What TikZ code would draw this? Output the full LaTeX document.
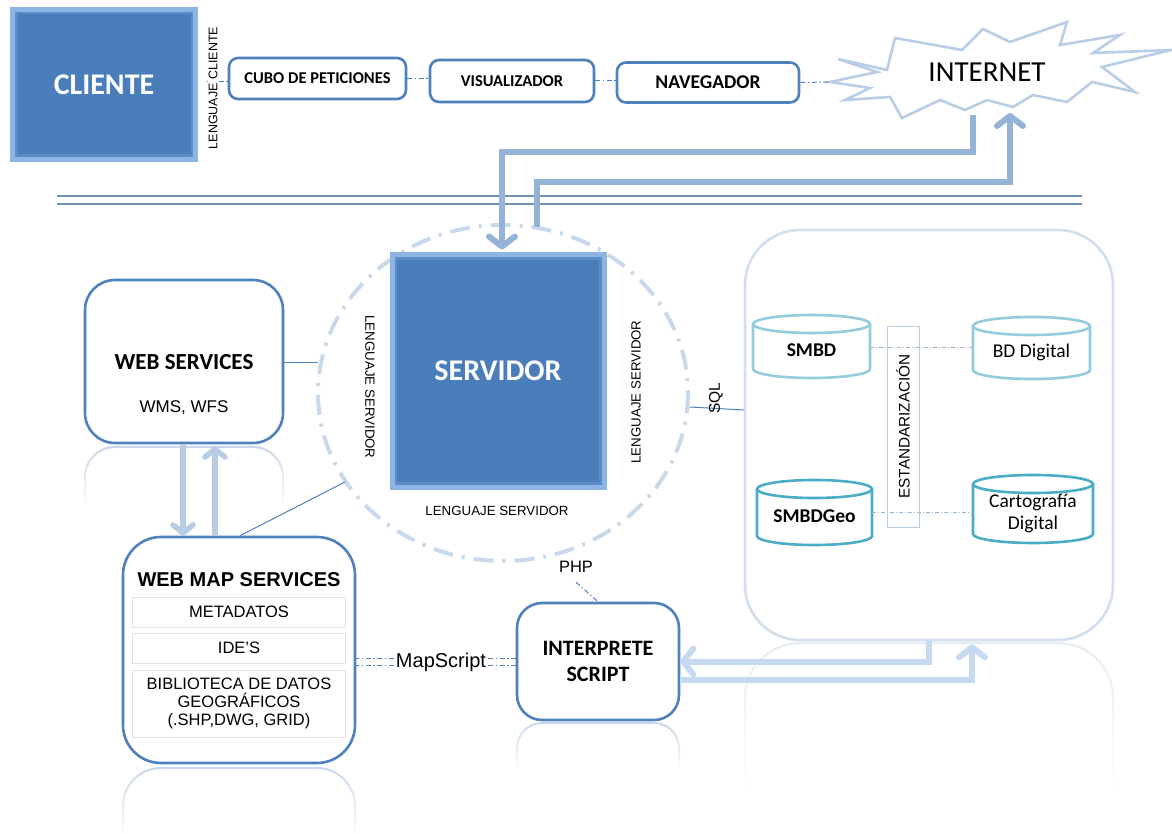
\documentclass[tikz,border=0pt]{standalone}
\usepackage{fontspec}
\setmainfont{Liberation Sans}
\newfontfamily\calfont{Carlito}
\usetikzlibrary{arrows.meta,calc,fadings}
\definecolor{boxblue}{HTML}{4F81BD}
\definecolor{fillblue}{HTML}{4A7EBB}
\definecolor{glowblue}{HTML}{8DB4E2}
\definecolor{bevelblue}{HTML}{6E9BD6}
\definecolor{arrowblue}{HTML}{95B3D7}
\definecolor{midblue}{HTML}{B8CCE4}
\definecolor{paleblue}{HTML}{C6D9F1}
\definecolor{circblue}{HTML}{C9D9EC}
\definecolor{lineblue}{HTML}{6D94B8}
\definecolor{tealA}{HTML}{93CDDD}
\definecolor{tealB}{HTML}{4BACC6}
\definecolor{starblue}{HTML}{B9CDE5}
\definecolor{bigline}{HTML}{D3DFEE}
\definecolor{cellgray}{HTML}{E2E2E2}
\definecolor{reflblue}{HTML}{C9D7EA}
\definecolor{reflpale}{HTML}{E6ECF5}
\newcommand\dbcyl[8]{%
  \pgfmathsetmacro\cylcx{(#2+#4)/2}%
  \pgfmathsetmacro\cylrx{(#4-#2)/2}%
  \draw[draw=#6, line width=2.6pt, fill=white] (#2,#3+9) -- (#2,#5-9)
     arc[start angle=180, end angle=0, x radius=\cylrx, y radius=9] -- (#4,#3+9);
  \draw[draw=#6, line width=2.6pt] (\cylcx,#3+9) ellipse [x radius=\cylrx, y radius=9];
  \node[cyltext, font=#7, minimum width=#4-#2, minimum height=#5-#3-18] (#1) at (\cylcx,{(#3+#5)/2+4}) {#8};
}
\begin{document}
\begin{tikzpicture}[x=1pt,y=-1pt,
  bluebox/.style={fill=fillblue, draw=glowblue, line width=5pt, text=white,
    font=\calfont\bfseries\fontsize{30}{33}\selectfont, inner sep=0,
    path picture={\draw[bevelblue, line width=10pt, opacity=.5]
      (path picture bounding box.south west) rectangle (path picture bounding box.north east);}},
  rbox/.style={draw=boxblue, line width=2.6pt, rounded corners=9pt, fill=white, align=center, inner sep=0},
  toplbl/.style={font=\calfont\bfseries\fontsize{16.5}{18}\selectfont},
  vlbl/.style={font=\fontsize{13.3}{15}\selectfont, inner sep=0},
  thinlink/.style={draw=boxblue, line width=1pt},
  ddlink/.style={draw=boxblue, line width=1pt, dash pattern=on 5pt off 2.5pt on 1.5pt off 2.5pt},
  cyllink/.style={draw=lineblue!70, line width=0.8pt, dash pattern=on 4pt off 2pt on 1pt off 2pt},
  bigarrow/.style={draw=arrowblue, line width=6pt, -{Straight Barb[length=10pt,width=26pt,round]}},
  midarrow/.style={draw=midblue, line width=5.5pt, -{Straight Barb[length=8pt,width=20pt,round]}},
  palearrow/.style={draw=paleblue, line width=6pt, -{Straight Barb[length=10pt,width=26pt,round]}},
  cell/.style={draw=cellgray, line width=0.8pt, minimum width=213pt, inner sep=0, align=center,
    font=\fontsize{16.5}{18}\selectfont},
  cyltext/.style={inner sep=0, align=center},
  reflect/.style={draw=#1, line width=2pt, path fading=south},
  reflect/.default=reflblue
]
\useasboundingbox (0,0) rectangle (1172,834);
\fill[white] (0,0) rectangle (1172,834);

% ---------- top row ----------
\node[bluebox, minimum width=183pt, minimum height=150pt] (cliente) at (104,84.5) {CLIENTE};
\node[rbox, minimum width=177pt, minimum height=41pt, toplbl] (cubo) at (317.5,78.5) {CUBO DE PETICIONES};
\node[rbox, minimum width=164pt, minimum height=42pt, toplbl] (visu) at (512,81) {VISUALIZADOR};
\node[rbox, minimum width=182pt, minimum height=40pt, font=\calfont\bfseries\fontsize{19.5}{21}\selectfont] (nave) at (708,82.5) {NAVEGADOR};
\coordinate (lcfree) at (207,82);
\draw[ddlink] (lcfree) -- (cubo.west |- lcfree);
\node[font=\fontsize{12.5}{14}\selectfont, rotate=90, fill=white, inner sep=0.5pt] (lengcli) at (213,88) {LENGUAJE CLIENTE};
\draw[ddlink] (cubo.east) -- (visu.west |- cubo.east);
\draw[ddlink] (visu.east) -- (nave.west |- visu.east);

% INTERNET starburst
\draw[starblue, line width=2.6pt, line join=miter, fill=white]
  (838,59) -- (887,70) -- (895,38) -- (962,50) -- (983,29) -- (1010,42) -- (1067,22)
  -- (1060,45) -- (1120,35) -- (1093,53) -- (1171,50) -- (1102,67) -- (1135,92)
  -- (1092,82) -- (1067,102) -- (1033,95) -- (1013,107) -- (987,100) -- (965,110)
  -- (940,100) -- (902,118) -- (890,97) -- (845,100) -- (870,88) -- (830,82)
  -- (877,72) -- cycle;
\node[font=\calfont\fontsize{29}{32}\selectfont] (internet) at (987,72) {INTERNET};
\coordinate (inettip) at (830,82);
\draw[ddlink] (nave.east) -- (inettip);

% separator lines
\draw[lineblue, line width=1.4pt] (57,196) -- (1082,196);
\draw[lineblue, line width=1.4pt] (57,204) -- (1082,204);

% ---------- server ----------
\draw[circblue, line width=4pt, dash pattern=on 20pt off 9pt on 3pt off 9pt] (503,393) ellipse [x radius=185, y radius=168];
\node[bluebox, minimum width=212pt, minimum height=232pt] (serv) at (498,371) {SERVIDOR};
\node[vlbl, rotate=-90] (lsL) at (370,387) {LENGUAJE SERVIDOR};
\node[vlbl, rotate=90] (lsR) at (636,392) {LENGUAJE SERVIDOR};
\node[vlbl] (lsB) at (497,511) {LENGUAJE SERVIDOR};

% internet <-> server arrows
\coordinate (inetout) at (973,115);
\coordinate (inetin) at (1010,113);
\coordinate (servout) at (537,227);
\draw[bigarrow] (inetout) -- ++(0,37) -| ([xshift=4pt,yshift=3pt]serv.north);
\draw[bigarrow] (servout) -- ++(0,-45) -| (inetin);

% ---------- data box ----------
\node[draw=bigline, line width=2.6pt, rounded corners=55pt, minimum width=368pt, minimum height=410pt, inner sep=0] (bigb) at (929,435) {};
\dbcyl{smbd}{753}{315}{870}{378}{tealA}{\calfont\bfseries\fontsize{19.5}{21}\selectfont}{SMBD}
\dbcyl{bdd}{973}{317}{1090}{379}{tealA}{\calfont\fontsize{19.5}{21}\selectfont}{BD Digital}
\dbcyl{smbdgeo}{757}{480}{872}{545}{tealB}{\calfont\bfseries\fontsize{19.5}{21}\selectfont}{SMBDGeo}
\dbcyl{carto}{973}{475}{1093}{543}{tealB}{\calfont\fontsize{19.5}{22}\selectfont}{Cartograf\'ia\\Digital}
\draw[cyllink] (smbd.east |- 0,347) -- (bdd.west |- 0,347);
\draw[cyllink] (smbdgeo.east |- 0,512) -- (carto.west |- 0,512);
\node[draw=starblue, line width=1pt, minimum width=32pt, minimum height=201pt, inner sep=0] (estd) at (903,426.5) {};
\node[rotate=90, font=\fontsize{15.3}{17}\selectfont] at (estd.center) {ESTANDARIZACI\'ON};

% SQL link
\coordinate (ellR) at (690,407);
\draw[thinlink] (ellR) -- (bigb.west |- 0,410);
\node[rotate=90, font=\fontsize{15.5}{17}\selectfont] (sql) at (716,398) {SQL};

% ---------- web services ----------
\node[rbox, rounded corners=30pt, minimum width=198pt, minimum height=163pt] (ws) at (184,361.5) {};
\node[font=\calfont\bfseries\fontsize{23}{25}\selectfont] at (184,362) {WEB SERVICES};
\node[font=\fontsize{17}{19}\selectfont] at (184,408) {WMS, WFS};
\coordinate (ellL) at (318,362);
\draw[thinlink] (ws.east |- ellL) -- (ellL);
\draw[reflect] (85,505) [rounded corners=30pt] -- (85,447) -- (283,447) [sharp corners] -- (283,505);

% ---------- web map services ----------
\node[rbox, rounded corners=38pt, minimum width=232pt, minimum height=226pt] (wms) at (239,650) {};
\node[font=\bfseries\fontsize{20}{22}\selectfont] at (239,580) {WEB MAP SERVICES};
\node[cell, minimum height=30pt] (meta) at (239,612) {METADATOS};
\node[cell, minimum height=30pt] (ides) at (239,648) {IDE'S};
\node[cell, minimum height=67pt] (bib) at (239,703.5) {BIBLIOTECA DE DATOS\\GEOGR\'AFICOS\\(.SHP,DWG, GRID)};
\draw[reflect] (123,834) [rounded corners=38pt] -- (123,768) -- (355,768) [sharp corners] -- (355,834);

\draw[midarrow] ([xshift=-1pt]ws.south) -- ([xshift=-1pt]ws.south |- wms.north);
\draw[midarrow] ([xshift=31pt]ws.south |- wms.north) -- ([xshift=31pt,yshift=-2pt]ws.south);
\coordinate (ellBL) at (345,482);
\draw[thinlink] ([xshift=1pt]wms.north) -- (ellBL);

% ---------- interprete ----------
\node[rbox, rounded corners=25pt, minimum width=162pt, minimum height=117pt,
  font=\calfont\bfseries\fontsize{22}{26}\selectfont] (interp) at (598,661.5) {INTERPRETE\\SCRIPT};
\draw[reflect] (517,768) [rounded corners=25pt] -- (517,723) -- (679,723) [sharp corners] -- (679,768);
\node[font=\fontsize{20}{22}\selectfont, inner sep=2pt] (ms) at (441,662) {MapScript};
\draw[ddlink] ([yshift=3.5pt]ms.west) -- ([yshift=3.5pt]ms.west -| wms.east);
\draw[ddlink] ([yshift=-3.5pt]ms.west) -- ([yshift=-3.5pt]ms.west -| wms.east);
\draw[ddlink] ([yshift=3.5pt]ms.east) -- ([yshift=3.5pt]ms.east -| interp.west);
\draw[ddlink] ([yshift=-3.5pt]ms.east) -- ([yshift=-3.5pt]ms.east -| interp.west);
\node[font=\fontsize{16.5}{18}\selectfont] (php) at (576,567) {PHP};
\draw[ddlink] ([yshift=-6pt]php.south) -- (interp.north);

% big box reflection and arrows
\draw[reflect=reflpale] (745,790) [rounded corners=55pt] -- (745,643) -- (1113,643) [sharp corners] -- (1113,790);
\draw[palearrow] (bigb.south) |- (interp.east);
\draw[palearrow] ([yshift=-18.5pt]interp.east) -| ([xshift=43pt,yshift=-3pt]bigb.south);
\end{tikzpicture}
\end{document}
